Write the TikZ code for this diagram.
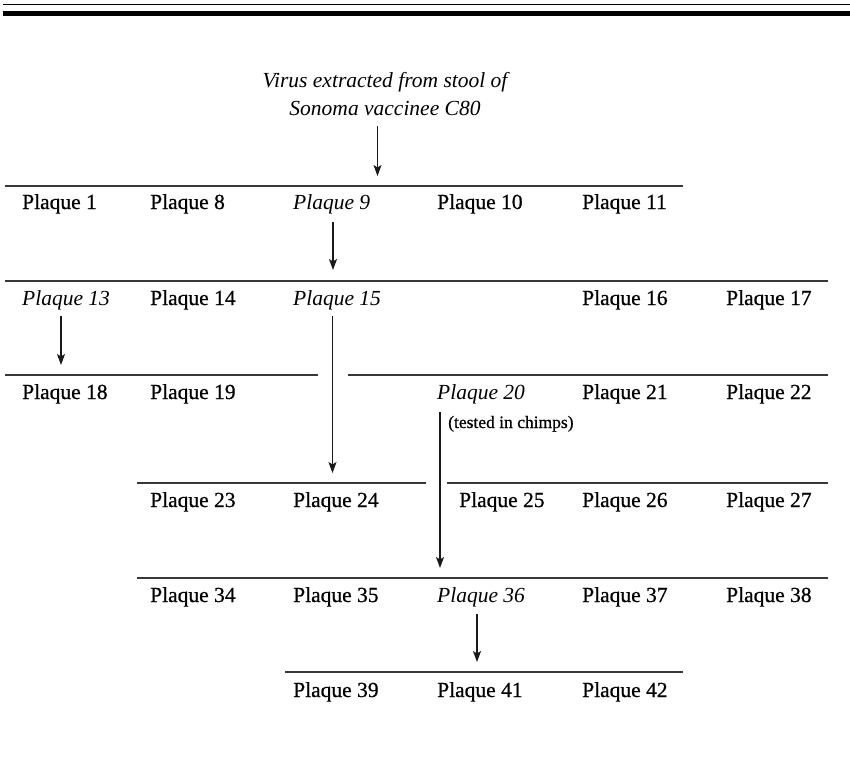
\documentclass[tikz,border=0pt]{standalone}
\usepackage{fontspec}
\setmainfont{Liberation Serif}
\newfontfamily\labelfont[FakeBold=0.7]{Liberation Serif}
\usetikzlibrary{arrows.meta}
\tikzset{
  x=1pt, y=-1pt,
  plq/.style={anchor=base west, inner sep=0pt, font=\labelfont\fontsize{21.5}{24}\selectfont},
  plqi/.style={anchor=base west, inner sep=0pt, font=\fontsize{21.5}{24}\selectfont\itshape},
  note/.style={anchor=base west, inner sep=0pt, font=\labelfont\fontsize{17.5}{20}\selectfont},
  title/.style={anchor=base, inner sep=0pt, font=\fontsize{21.5}{24}\selectfont\itshape},
  rule/.style={draw=black!78, line width=1.3pt},
  arr/.style={draw=black!90, line width=1.1pt, -{Stealth[length=11pt,width=8pt,inset=2.5pt]}},
}
\begin{document}
\begin{tikzpicture}
\useasboundingbox (0,0) rectangle (850,761);

% page header bars
\fill (3,4) rectangle (850,5.4);
\fill (3,10.7) rectangle (850,16.3);

% heading
\node[title] (t1) at (385,87) {Virus extracted from stool of};
\node[title] (t2) at (385,115.5) {Sonoma vaccinee C80};

% generation rules
\draw[rule] (5,186) coordinate (r1a) -- (683,186) coordinate (r1b);
\draw[rule] (5,281) coordinate (r2a) -- (828,281) coordinate (r2b);
\draw[rule] (5,375) coordinate (r3a) -- (318,375) coordinate (r3b);
\draw[rule] (348,375) coordinate (r3c) -- (828,375) coordinate (r3d);
\draw[rule] (137,483) coordinate (r4a) -- (426,483) coordinate (r4b);
\draw[rule] (447,483) coordinate (r4c) -- (828,483) coordinate (r4d);
\draw[rule] (137,578) coordinate (r5a) -- (828,578) coordinate (r5b);
\draw[rule] (285,672) coordinate (r6a) -- (683,672) coordinate (r6b);

% row 1
\node[plq]  (p1)  at (22,209)  {Plaque 1};
\node[plq]  (p8)  at (150,209) {Plaque 8};
\node[plqi] (p9)  at (293,209) {Plaque 9};
\node[plq]  (p10) at (437,209) {Plaque 10};
\node[plq]  (p11) at (582,209) {Plaque 11};

% row 2
\node[plqi] (p13) at (22,305)  {Plaque 13};
\node[plq]  (p14) at (150,305) {Plaque 14};
\node[plqi] (p15) at (293,305) {Plaque 15};
\node[plq]  (p16) at (582,305) {Plaque 16};
\node[plq]  (p17) at (726,305) {Plaque 17};

% row 3
\node[plq]  (p18) at (22,399)  {Plaque 18};
\node[plq]  (p19) at (150,399) {Plaque 19};
\node[plqi] (p20) at (437,399) {Plaque 20};
\node[plq]  (p21) at (582,399) {Plaque 21};
\node[plq]  (p22) at (726,399) {Plaque 22};
\node[note] (n20) at (448,428) {(tested in chimps)};

% row 4
\node[plq]  (p23) at (150,507) {Plaque 23};
\node[plq]  (p24) at (293,507) {Plaque 24};
\node[plq]  (p25) at (459,507) {Plaque 25};
\node[plq]  (p26) at (582,507) {Plaque 26};
\node[plq]  (p27) at (726,507) {Plaque 27};

% row 5
\node[plq]  (p34) at (150,602) {Plaque 34};
\node[plq]  (p35) at (293,602) {Plaque 35};
\node[plqi] (p36) at (437,602) {Plaque 36};
\node[plq]  (p37) at (582,602) {Plaque 37};
\node[plq]  (p38) at (726,602) {Plaque 38};

% row 6
\node[plq]  (p39) at (293,697) {Plaque 39};
\node[plq]  (p41) at (437,697) {Plaque 41};
\node[plq]  (p42) at (582,697) {Plaque 42};

% lineage arrows
\coordinate (a0s) at (377.5,126);  \coordinate (a0e) at (377.5,176);
\coordinate (a9s) at (333,222);    \coordinate (a9e) at (333,270);
\coordinate (a13s) at (61,316);    \coordinate (a13e) at (61,365);
\coordinate (a15s) at (332.5,316); \coordinate (a15e) at (332.5,473);
\coordinate (a20s) at (440,412);   \coordinate (a20e) at (440,568);
\coordinate (a36s) at (477,614);   \coordinate (a36e) at (477,662);

\draw[arr] (a0s) -- (a0e);
\draw[arr] (a9s) -- (a9e);
\draw[arr] (a13s) -- (a13e);
\draw[arr] (a15s) -- (a15e);
\draw[arr] (a20s) -- (a20e);
\draw[arr] (a36s) -- (a36e);
\end{tikzpicture}
\end{document}
